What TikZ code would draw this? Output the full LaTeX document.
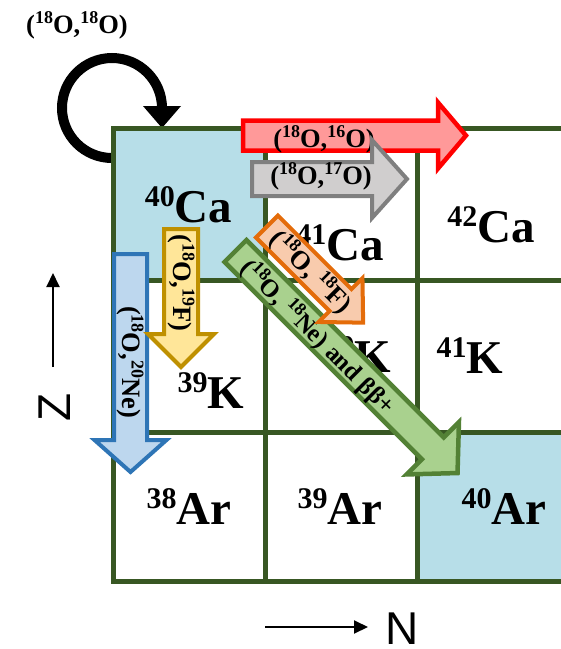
\documentclass[tikz,border=0pt]{standalone}
\usepackage{fontspec}
\setmainfont{Liberation Serif}
\newfontfamily\axisfont{Liberation Sans}
\usetikzlibrary{arrows.meta}
\definecolor{gridg}{HTML}{385723}
\definecolor{cellb}{HTML}{B7DEE8}
\definecolor{redb}{HTML}{FF0000}\definecolor{redf}{HTML}{FF9999}
\definecolor{grayb}{HTML}{7F7F7F}\definecolor{grayf}{HTML}{D0CECE}
\definecolor{blueb}{HTML}{2E75B6}\definecolor{bluef}{HTML}{BDD7EE}
\definecolor{yelb}{HTML}{BF9000}\definecolor{yelf}{HTML}{FFE699}
\definecolor{orab}{HTML}{E46C0A}\definecolor{oraf}{HTML}{F8CBAD}
\definecolor{greb}{HTML}{538135}\definecolor{gref}{HTML}{A9D18E}
\newcommand\isoBig[2]{\raisebox{0.32em}{\fontsize{30}{30}\selectfont #1}#2}
\newcommand\isoSm[2]{\raisebox{0.36em}{\fontsize{18}{18}\selectfont #1}#2}
% #1 style, #2 tail centre, #3 angle, #4 total length, #5 body half width, #6 head half width, #7 head length
\newcommand\blockarrow[7]{%
  \begin{scope}[shift={#2}, rotate=#3]
    \draw[#1] (0,-#5) -- ({#4-#7},-#5) -- ({#4-#7},-#6) -- (#4,0) -- ({#4-#7},#6) -- ({#4-#7},#5) -- (0,#5) -- cycle;
  \end{scope}}
\tikzset{
  gridline/.style={draw=gridg, line width=5pt, line cap=rect},
  celllab/.style={font=\fontsize{47}{47}\selectfont\bfseries, anchor=base, inner sep=0pt},
  arrlab/.style={font=\fontsize{26.5}{26.5}\selectfont\bfseries, inner sep=0pt},
  axislab/.style={font=\axisfont\fontsize{46}{46}\selectfont, inner sep=0pt},
  axisarrow/.style={line width=2pt, -{Triangle[length=14pt,width=13pt]}},
}
\begin{document}
\begin{tikzpicture}[x=1pt,y=-1pt]
\useasboundingbox (0,0) rectangle (561,649);
\clip (0,0) rectangle (561,649);
% self loop
\draw[line width=10pt] (112,158) arc[start angle=90,end angle=360,radius=50];
\fill (143,106) -- (181,106) -- (162,128) -- cycle;
% cells
\fill[cellb] (113,128) rectangle (265,280);
\fill[cellb] (417,432) rectangle (575,581);
\foreach \yy in {128,280,432,581} \draw[gridline] (113,\yy) -- (575,\yy);
\foreach \xx in {113,265,417} \draw[gridline] (\xx,128) -- (\xx,581);
% cell labels
\node[celllab] (ca40) at (188.5,222) {\isoBig{40}{Ca}};
\node[celllab] (ca41) at (340,260) {\isoBig{41}{Ca}};
\node[celllab] (ca42) at (491,242) {\isoBig{42}{Ca}};
\node[celllab] (k39) at (211,408) {\isoBig{39}{K}};
\node[celllab] (k40) at (358,372) {\isoBig{40}{K}};
\node[celllab] (k41) at (470,373) {\isoBig{41}{K}};
\node[celllab] (ar38) at (189,524) {\isoBig{38}{Ar}};
\node[celllab] (ar39) at (340,524) {\isoBig{39}{Ar}};
\node[celllab] (ar40) at (504,524) {\isoBig{40}{Ar}};
% top label
\node[arrlab, anchor=base] (loop) at (77,33) {(\isoSm{18}{O},\isoSm{18}{O})};
% block arrows
\blockarrow{draw=redb, fill=redf, line width=4.5pt}{(243,135.5)}{0}{223}{15}{33}{28}
\node[arrlab, anchor=base] (l16) at (324,147) {(\isoSm{18}{O},\isoSm{16}{O})};
\blockarrow{draw=grayb, fill=grayf, line width=4pt}{(252,179)}{0}{155}{17}{39}{35}
\node[arrlab, anchor=base] (l17) at (321,184) {(\isoSm{18}{O},\isoSm{17}{O})};
\blockarrow{draw=blueb, fill=bluef, line width=4pt}{(130.5,254)}{-90}{218}{16.5}{36}{32}
\node[arrlab, rotate=-90] (l20) at (130,362) {(\isoSm{18}{O},\isoSm{20}{Ne})};
\blockarrow{draw=yelb, fill=yelf, line width=4pt}{(181,229)}{-90}{138}{17}{33}{33}
\node[arrlab, rotate=-90] (l19) at (181,283) {(\isoSm{18}{O},\isoSm{19}{F})};
\blockarrow{draw=greb, fill=gref, line width=4.5pt}{(235.5,251)}{-45}{314}{15.5}{37}{35}
\node[arrlab, rotate=-45, font=\fontsize{25}{25}\selectfont\bfseries] (lne) at (318,337) {(\isoSm{18}{O}, \isoSm{18}{Ne}) and ββ+};
\blockarrow{draw=orab, fill=oraf, line width=4pt}{(267,226.5)}{-45}{136}{15.5}{31}{32}
\node[arrlab, rotate=-45] (l18f) at (311,272) {(\isoSm{18}{O}, \isoSm{18}{F})};
% axes
\coordinate (zs) at (53,367); \coordinate (ze) at (53,273);
\draw[axisarrow] (zs) -- (ze);
\node[axislab, rotate=90] (zlab) at (55,407) {Z};
\coordinate (ns) at (265,627); \coordinate (ne) at (368,627);
\draw[axisarrow] (ns) -- (ne);
\node[axislab] (nlab) at (402,629) {N};
\end{tikzpicture}
\end{document}
